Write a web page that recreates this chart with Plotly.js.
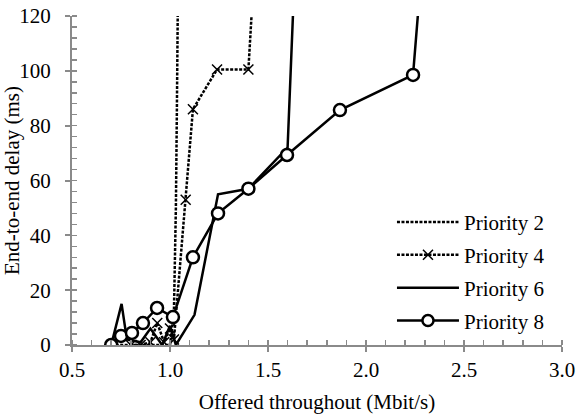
<!DOCTYPE html>
<html><head><meta charset="utf-8">
<script src="https://cdn.plot.ly/plotly-3.0.1.min.js"></script>
<style>html,body{margin:0;padding:0;background:#fff}#chart{width:576px;height:417px}</style>
</head><body><div id="chart"></div>
<script>
const seriesNames = ["Priority 2", "Priority 4", "Priority 6", "Priority 8"];
const p2x = [0.70, 0.75, 0.80, 0.85, 0.90, 0.95, 1.00, 1.02, 1.03, 1.035, 1.04];
const p2y = [0, 0, 0, 0, 0, 0, 0, 12, 50, 85, 125];
const p4x = [0.80, 0.85, 0.90, 0.935, 0.97, 1.00, 1.02, 1.08, 1.117, 1.24, 1.40, 1.42];
const p4y = [0, 0, 1, 8, 1, 6, 2, 53, 86, 100.5, 100.5, 125];
const p6x = [0.70, 0.753, 0.78, 0.85, 0.90, 0.96, 1.00, 1.03, 1.125, 1.245, 1.40, 1.60, 1.63];
const p6y = [0, 15, 2, 1, 6, 0, 7, 0, 11, 55, 57, 72, 125];
const p8x = [0.70, 0.75, 0.806, 0.862, 0.934, 1.015, 1.117, 1.245, 1.40, 1.597, 1.867, 2.24, 2.27];
const p8y = [0, 3.3, 4.4, 8, 13.5, 10.2, 32, 48, 57, 69.3, 85.7, 98.5, 125];
const p8sym = p8x.map((v, i) => i === p8x.length - 1 ? 0 : 12);
const xTicks = [0.5, 1.0, 1.5, 2.0, 2.5, 3.0];
const xTickText = ["0.5", "1.0", "1.5", "2.0", "2.5", "3.0"];
const yTicks = [0, 20, 40, 60, 80, 100, 120];

const SERIF = "'Liberation Serif', 'Times New Roman', serif";

const traces = [
  {x: p2x, y: p2y, name: seriesNames[0], mode: "lines", legendgroup: "a",
   line: {color: "#000", width: 2.5, dash: "3px,1.5px"}},
  {x: p4x, y: p4y, name: seriesNames[1], mode: "lines+markers", legendgroup: "b",
   line: {color: "#000", width: 2.5, dash: "3px,1.5px"},
   marker: {symbol: "x-thin", size: 10, line: {color: "#000", width: 1.5}}},
  {x: p6x, y: p6y, name: seriesNames[2], mode: "lines", legendgroup: "c",
   line: {color: "#000", width: 2.5}},
  {x: p8x, y: p8y, name: seriesNames[3], mode: "lines+markers", legendgroup: "d",
   line: {color: "#000", width: 2.5},
   marker: {symbol: "circle", size: p8sym, color: "#ffffff", opacity: 1, line: {color: "#000", width: 2.5}}}
];

const axisCommon = {
  showgrid: false, zeroline: false, showline: true, linecolor: "#8a8a8a", linewidth: 2,
  ticks: "outside", ticklen: 5, tickwidth: 2, tickcolor: "#8a8a8a",
  tickfont: {family: SERIF, size: 21, color: "#000"},
  minor: {ticks: "inside", ticklen: 5, tickwidth: 1.5, tickcolor: "#8a8a8a"}
};

const layout = {
  width: 576, height: 417,
  margin: {l: 72, r: 14, t: 16, b: 72},
  paper_bgcolor: "#fff", plot_bgcolor: "#fff",
  font: {family: SERIF, size: 21, color: "#000"},
  xaxis: Object.assign({}, axisCommon, {
    range: [0.5, 3.0], tickvals: xTicks, ticktext: xTickText, ticklabelstandoff: 0,
    minor: Object.assign({}, axisCommon.minor, {dtick: 0.1, tick0: 0.5}),
    title: {text: "Offered throughout (Mbit/s)", font: {family: SERIF, size: 21}, standoff: 13}
  }),
  yaxis: Object.assign({}, axisCommon, {
    range: [0, 120], tickvals: yTicks, ticklabelstandoff: 10,
    minor: Object.assign({}, axisCommon.minor, {dtick: 4, tick0: 0}),
    title: {text: "End-to-end delay (ms)", font: {family: SERIF, size: 21}, standoff: 2}
  }),
  legend: {x: 0.653, y: 0.435, xanchor: "left", yanchor: "top", bgcolor: "rgba(255,255,255,0)",
    font: {family: SERIF, size: 21}, tracegroupgap: 2.5, itemwidth: 62},
  showlegend: true
};

Plotly.newPlot("chart", traces, layout, {displayModeBar: false, staticPlot: true});
</script></body></html>
